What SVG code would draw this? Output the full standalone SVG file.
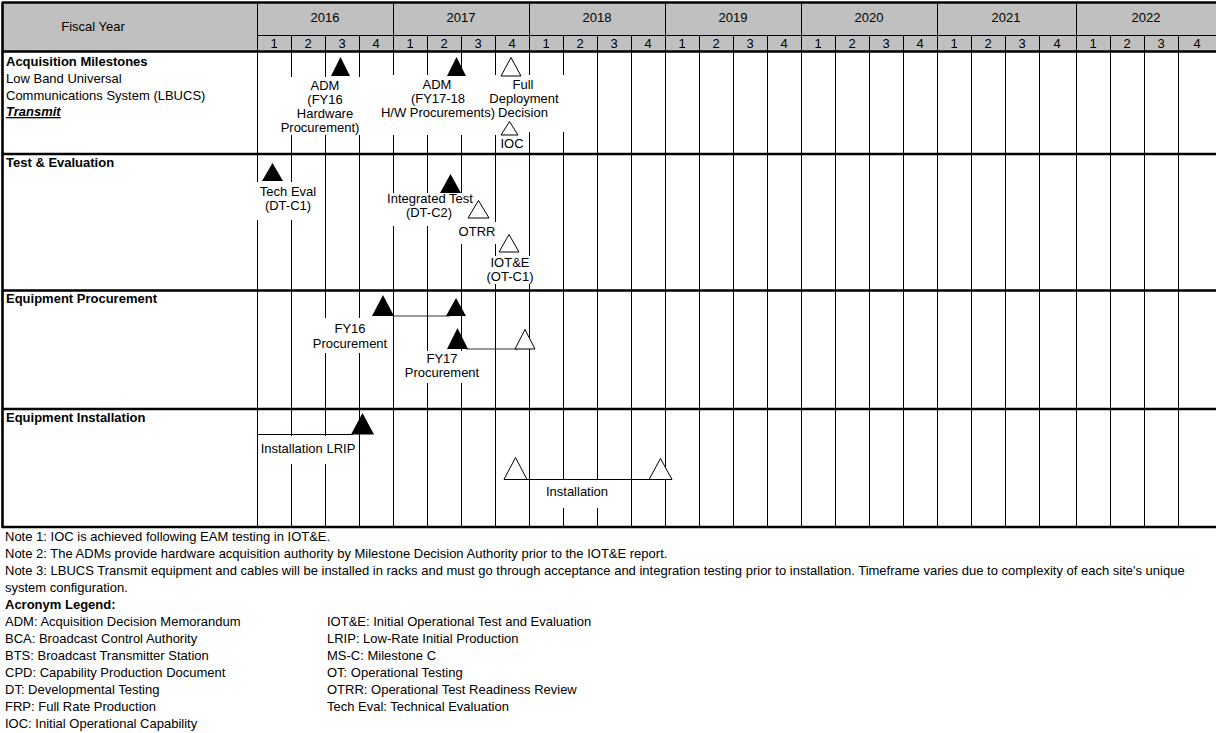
<svg xmlns="http://www.w3.org/2000/svg" width="1217" height="733" viewBox="0 0 1217 733">
<style>
text{font-family:"Liberation Sans",Arial,sans-serif;font-size:13px;fill:#000}
.c{text-anchor:middle}
.b{font-weight:bold}
.thin{stroke:#000;stroke-width:1;fill:none}
.thick{stroke:#000;stroke-width:2.6;fill:none}
.mask{fill:#fff;stroke:none}
.full{fill:#000;stroke:none}
.hol{fill:#fff;stroke:#000;stroke-width:1}
.link{stroke:#333;stroke-width:1.2;fill:none}
</style>
<rect x="0" y="0" width="1217" height="733" fill="#fff"/>
<g id="header">
<rect x="2" y="2" width="1214" height="50" fill="#c0c0c0"/>
<path class="thin" d="M257.5 35.5H1216M257.5 2V52M393.5 2V52M529.5 2V52M665.5 2V52M801.5 2V52M937.5 2V52M1076.5 2V52M291.5 35V52M325.5 35V52M359.5 35V52M427.5 35V52M461.5 35V52M495.5 35V52M563.5 35V52M597.5 35V52M631.5 35V52M699.5 35V52M733.5 35V52M767.5 35V52M835.5 35V52M869.5 35V52M903.5 35V52M971.5 35V52M1005.5 35V52M1039.5 35V52M1110.5 35V52M1144.5 35V52M1178.5 35V52"/>
<text x="93" y="31" class="c">Fiscal Year</text>
<text x="325" y="22" class="c">2016</text>
<text x="461" y="22" class="c">2017</text>
<text x="597" y="22" class="c">2018</text>
<text x="733" y="22" class="c">2019</text>
<text x="869" y="22" class="c">2020</text>
<text x="1006" y="22" class="c">2021</text>
<text x="1146" y="22" class="c">2022</text>
<g class="c">
<text x="274" y="48" class="c">1</text><text x="308" y="48" class="c">2</text><text x="342" y="48" class="c">3</text><text x="376" y="48" class="c">4</text>
<text x="410" y="48" class="c">1</text><text x="444" y="48" class="c">2</text><text x="478" y="48" class="c">3</text><text x="512" y="48" class="c">4</text>
<text x="546" y="48" class="c">1</text><text x="580" y="48" class="c">2</text><text x="614" y="48" class="c">3</text><text x="648" y="48" class="c">4</text>
<text x="682" y="48" class="c">1</text><text x="716" y="48" class="c">2</text><text x="750" y="48" class="c">3</text><text x="784" y="48" class="c">4</text>
<text x="818" y="48" class="c">1</text><text x="852" y="48" class="c">2</text><text x="886" y="48" class="c">3</text><text x="920" y="48" class="c">4</text>
<text x="954" y="48" class="c">1</text><text x="988" y="48" class="c">2</text><text x="1022" y="48" class="c">3</text><text x="1057" y="48" class="c">4</text>
<text x="1093" y="48" class="c">1</text><text x="1127" y="48" class="c">2</text><text x="1161" y="48" class="c">3</text><text x="1197" y="48" class="c">4</text>
</g>
</g>
<g id="grid">
<path class="thin" d="M257.5 52V527M291.5 52V527M325.5 52V527M359.5 52V527M393.5 52V527M427.5 52V527M461.5 52V527M495.5 52V527M529.5 52V527M563.5 52V527M597.5 52V527M631.5 52V527M665.5 52V527M699.5 52V527M733.5 52V527M767.5 52V527M801.5 52V527M835.5 52V527M869.5 52V527M903.5 52V527M937.5 52V527M971.5 52V527M1005.5 52V527M1039.5 52V527M1076.5 52V527M1110.5 52V527M1144.5 52V527M1178.5 52V527"/>
<rect class="mask" x="279" y="77" width="90" height="58"/>
<rect class="mask" x="381" y="75" width="118" height="60"/>
<rect class="mask" x="490" y="75" width="80" height="57"/>
<rect class="mask" x="255" y="182" width="62" height="38"/>
<rect class="mask" x="386" y="193" width="84" height="33"/>
<rect class="mask" x="456" y="199" width="14" height="23"/>
<rect class="mask" x="456" y="222" width="42" height="22"/>
<rect class="mask" x="487" y="256" width="47" height="28"/>
<rect class="mask" x="311" y="318" width="78" height="35"/>
<rect class="mask" x="405" y="351" width="74" height="32"/>
<rect class="mask" x="262" y="436" width="93" height="28"/>
<rect class="mask" x="545" y="480" width="64" height="28"/>
<path class="thick" d="M2 2.5H1216M2.5 2V528M2 51.5H1216M2 154H1216M2 290.5H1216M2 409H1216M2 527H1216"/>
</g>
<g id="row-acquisition">
<text x="6" y="66" class="b">Acquisition Milestones</text>
<text x="6" y="83">Low Band Universal</text>
<text x="6" y="100">Communications System (LBUCS)</text>
<text x="6" y="116" class="b" font-style="italic" text-decoration="underline">Transmit</text>
</g>
<g id="adm-fy16">
<polygon class="full" points="340.5,57 331,76 350,76"/>
<text x="325" y="90" class="c">ADM</text>
<text x="325" y="104" class="c">(FY16</text>
<text x="325" y="118" class="c">Hardware</text>
<text x="320" y="132" class="c">Procurement)</text>
</g>
<g id="adm-fy17">
<polygon class="full" points="456.5,57 447,76 466,76"/>
<text x="437" y="89" class="c">ADM</text>
<text x="438" y="103" class="c">(FY17-18</text>
<text x="438" y="117" class="c">H/W Procurements)</text>
</g>
<g id="fdd">
<polygon class="hol" points="511,57.5 501,76 521,76"/>
<text x="523" y="89" class="c">Full</text>
<text x="524" y="103" class="c">Deployment</text>
<text x="523" y="117" class="c">Decision</text>
</g>
<g id="ioc">
<polygon class="hol" points="509.5,121.5 501,135 518,135"/>
<text x="512" y="148" class="c">IOC</text>
</g>
<g id="row-test">
<text x="6" y="167" class="b">Test &amp; Evaluation</text>
</g>
<g id="tech-eval">
<polygon class="full" points="272.5,163 262,181 283,181"/>
<text x="288" y="196" class="c">Tech Eval</text>
<text x="288" y="210" class="c">(DT-C1)</text>
</g>
<g id="integrated-test">
<polygon class="full" points="450.5,174 440,193 461,193"/>
<text x="430" y="203" class="c">Integrated Test</text>
<text x="429" y="217" class="c">(DT-C2)</text>
</g>
<g id="otrr">
<polygon class="hol" points="478.5,200.5 468,218 489,218"/>
<text x="477" y="236" class="c">OTRR</text>
</g>
<g id="iote">
<polygon class="hol" points="509,234.5 499,252 519,252"/>
<text x="510" y="267" class="c">IOT&amp;E</text>
<text x="510" y="281" class="c">(OT-C1)</text>
</g>
<g id="row-procurement">
<text x="6" y="303" class="b">Equipment Procurement</text>
</g>
<g id="connectors">
<path class="link" d="M393 316H450"/>
<path class="link" d="M466 349H518"/>
<path class="thin" d="M257 434.5H353"/>
<path class="thin" d="M526 479.5H651"/>
</g>
<g id="fy16-procurement">
<polygon class="full" points="383,295 372,316 394,316"/>
<polygon class="full" points="456,298 446,316 466,316"/>
<text x="350" y="333" class="c">FY16</text>
<text x="350" y="348" class="c">Procurement</text>
</g>
<g id="fy17-procurement">
<polygon class="full" points="457.5,328 447,349 468,349"/>
<polygon class="hol" points="525,329.5 515,349 535,349"/>
<text x="442" y="363" class="c">FY17</text>
<text x="442" y="377" class="c">Procurement</text>
</g>
<g id="row-installation">
<text x="6" y="422" class="b">Equipment Installation</text>
</g>
<g id="installation-lrip">
<polygon class="full" points="362.5,413 351,434.5 374,434.5"/>
<text x="308" y="453" class="c">Installation LRIP</text>
</g>
<g id="installation">
<polygon class="hol" points="515.5,457.5 504,479.5 527,479.5"/>
<polygon class="hol" points="660.5,458.5 649,479.5 672,479.5"/>
<text x="577" y="496" class="c">Installation</text>
</g>
<g id="notes">
<text x="5" y="541">Note 1: IOC is achieved following EAM testing in IOT&amp;E.</text>
<text x="5" y="558">Note 2: The ADMs provide hardware acquisition authority by Milestone Decision Authority prior to the IOT&amp;E report.</text>
<text x="5" y="575">Note 3: LBUCS Transmit equipment and cables will be installed in racks and must go through acceptance and integration testing prior to installation. Timeframe varies due to complexity of each site's unique</text>
<text x="5" y="592">system configuration.</text>
<text x="5" y="609" class="b">Acronym Legend:</text>
<text x="5" y="626">ADM: Acquisition Decision Memorandum</text>
<text x="5" y="643">BCA: Broadcast Control Authority</text>
<text x="5" y="660">BTS: Broadcast Transmitter Station</text>
<text x="5" y="677">CPD: Capability Production Document</text>
<text x="5" y="694">DT: Developmental Testing</text>
<text x="5" y="711">FRP: Full Rate Production</text>
<text x="5" y="728">IOC: Initial Operational Capability</text>
<text x="327" y="626">IOT&amp;E: Initial Operational Test and Evaluation</text>
<text x="327" y="643">LRIP: Low-Rate Initial Production</text>
<text x="327" y="660">MS-C: Milestone C</text>
<text x="327" y="677">OT: Operational Testing</text>
<text x="327" y="694">OTRR: Operational Test Readiness Review</text>
<text x="327" y="711">Tech Eval: Technical Evaluation</text>
</g>
</svg>
